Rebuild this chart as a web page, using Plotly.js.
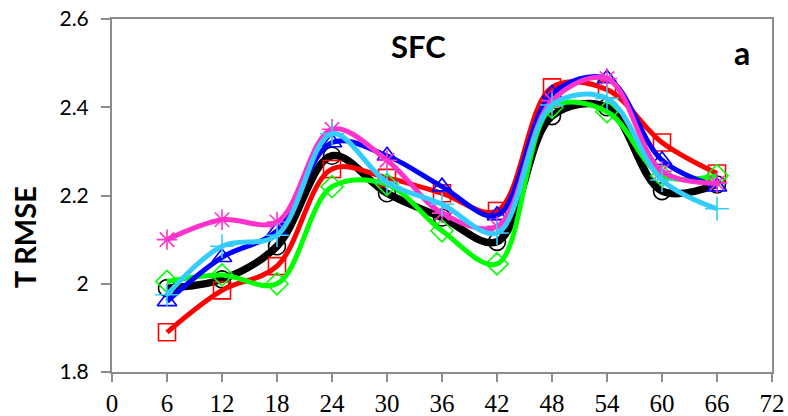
<!DOCTYPE html>
<html>
<head>
<meta charset="utf-8">
<script src="https://cdn.plot.ly/plotly-3.0.1.min.js"></script>
<style>
  html, body { margin: 0; padding: 0; background: #fff; }
  #chart { width: 788px; height: 416px; }
</style>
</head>
<body>
<div id="chart"></div>
<script>
// forecast lead time (h)
const leadHours = [6, 12, 18, 24, 30, 36, 42, 48, 54, 60, 66];
const xTicks = [0, 6, 12, 18, 24, 30, 36, 42, 48, 54, 60, 66, 72];

const blackVals   = [1.99, 2.01, 2.085, 2.29, 2.205, 2.15, 2.095, 2.38, 2.40, 2.21, 2.225];
const redVals     = [1.89, 1.985, 2.04, 2.26, 2.24, 2.205, 2.165, 2.445, 2.44, 2.32, 2.25];
const greenVals   = [2.005, 2.02, 2.0, 2.22, 2.225, 2.12, 2.045, 2.40, 2.39, 2.245, 2.245];
const blueVals    = [1.96, 2.06, 2.12, 2.32, 2.29, 2.22, 2.155, 2.43, 2.465, 2.28, 2.22];
const magentaVals = [2.10, 2.145, 2.14, 2.35, 2.28, 2.16, 2.13, 2.415, 2.465, 2.255, 2.228];
const cyanVals    = [1.975, 2.085, 2.11, 2.34, 2.23, 2.18, 2.115, 2.405, 2.42, 2.235, 2.17];

function series(y, color, symbol, lineWidth) {
  return {
    x: leadHours,
    y: y,
    type: 'scatter',
    mode: 'lines+markers',
    line: { color: color, width: lineWidth, shape: 'spline', smoothing: 1 },
    marker: {
      symbol: symbol,
      size: 17,
      color: color,
      line: { color: color, width: 1.6 }
    },
    hoverinfo: 'x+y'
  };
}

const traces = [
  series(blackVals, '#000000', 'circle-open', 7.5),
  series(redVals, '#ff0000', 'square-open', 5),
  series(greenVals, '#00ff00', 'diamond-open', 5),
  series(blueVals, '#0000ff', 'triangle-up-open', 5),
  series(magentaVals, '#ff33cc', 'asterisk-open', 5),
  series(cyanVals, '#33ccff', 'cross-thin-open', 5)
];

const axisGrey = '#8c8c8c';

const layout = {
  width: 788,
  height: 416,
  margin: { l: 112, r: 16, t: 19, b: 44, pad: 0 },
  showlegend: false,
  paper_bgcolor: '#ffffff',
  plot_bgcolor: '#ffffff',
  xaxis: {
    range: [0, 72],
    tickvals: xTicks,
    ticktext: xTicks.map(String),
    showgrid: false,
    zeroline: false,
    showline: true,
    mirror: true,
    linecolor: axisGrey,
    linewidth: 2,
    ticks: 'outside',
    ticklen: 8,
    tickwidth: 2,
    tickcolor: axisGrey,
    tickfont: { family: 'Liberation Serif, serif', size: 25, color: '#000' }
  },
  yaxis: {
    range: [1.8, 2.6],
    tickvals: [1.8, 2.0, 2.2, 2.4, 2.6],
    ticktext: ['1.8', '2', '2.2', '2.4', '2.6'],
    showgrid: false,
    zeroline: false,
    showline: true,
    mirror: true,
    linecolor: axisGrey,
    linewidth: 2,
    ticks: 'outside',
    ticklen: 9,
    tickwidth: 2,
    tickcolor: axisGrey,
    ticklabelstandoff: 8,
    tickfont: { family: 'Lato, sans-serif', size: 21, color: '#000' }
  },
  annotations: [
    {
      xref: 'paper', yref: 'paper',
      x: 0.465, y: 0.9235,
      xanchor: 'center', yanchor: 'middle',
      text: '<b>SFC</b>',
      font: { family: 'Lato, sans-serif', size: 31, color: '#000' },
      showarrow: false
    },
    {
      xref: 'paper', yref: 'paper',
      x: 0.955, y: 0.905,
      xanchor: 'center', yanchor: 'middle',
      text: '<b>a</b>',
      font: { family: 'Lato, sans-serif', size: 32, color: '#000' },
      showarrow: false
    },
    {
      xref: 'paper', yref: 'paper',
      x: -0.133, y: 0.382,
      xanchor: 'center', yanchor: 'middle',
      textangle: -90,
      text: '<b>T RMSE</b>',
      font: { family: 'Lato, sans-serif', size: 29, color: '#000' },
      showarrow: false
    }
  ]
};

Plotly.newPlot('chart', traces, layout, { staticPlot: true });
</script>
</body>
</html>
